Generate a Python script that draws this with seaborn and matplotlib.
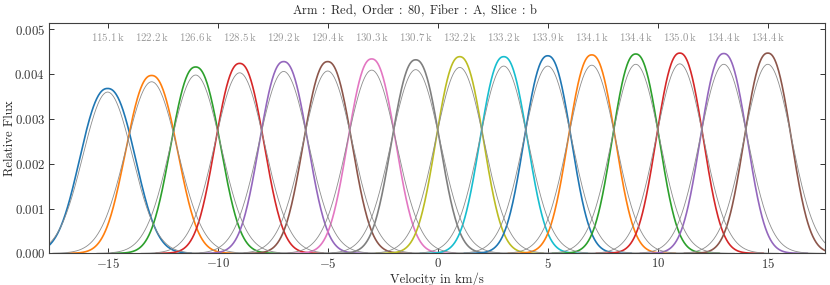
import numpy as np
import pandas as pd
import matplotlib.pyplot as plt
import seaborn as sns


# profile parameters
centers = [-15, -13, -11, -9, -7, -5, -3, -1, 1, 3, 5, 7, 9, 11, 13, 15]
obs_peak = [0.00368, 0.00397, 0.00416, 0.00424, 0.00428, 0.00428, 0.00434, 0.00432,
            0.00439, 0.00439, 0.00441, 0.00443, 0.00445, 0.00447, 0.00446, 0.00447]
obs_width = [1.64, 1.53, 1.47, 1.44, 1.43, 1.43, 1.41, 1.42,
             1.40, 1.40, 1.39, 1.39, 1.38, 1.38, 1.38, 1.38]
model_peak = [0.00360, 0.00383, 0.00398, 0.00403, 0.00406, 0.00407, 0.00409, 0.00410,
              0.00415, 0.00418, 0.00418, 0.00420, 0.00422, 0.00423, 0.00422, 0.00422]
model_sigma = [1.12, 1.17, 1.14, 1.13, 1.12, 1.12, 1.11, 1.11,
               1.10, 1.09, 1.09, 1.08, 1.08, 1.08, 1.08, 1.08]
res_power = [115.1, 122.2, 126.6, 128.5, 129.2, 129.4, 130.3, 130.7,
             132.2, 133.2, 133.9, 134.1, 134.4, 135.0, 134.4, 134.4]

#Build long tables

obs_rows = []
mod_rows = []
for i, c in enumerate(centers):
    v = np.linspace(c - 3.8, c + 3.8, 300)
    f = obs_peak[i] * np.exp(-np.abs((v - c) / obs_width[i]) ** 2.3)
    obs_rows.append(pd.DataFrame({"velocity": v, "flux": f, "slice": i}))
    vm = np.linspace(c - 4.5, c + 4.5, 300)
    fm = model_peak[i] * np.exp(-0.5 * ((vm - c) / model_sigma[i]) ** 2)
    mod_rows.append(pd.DataFrame({"velocity": vm, "flux": fm, "slice": i}))
df_obs = pd.concat(obs_rows, ignore_index=True)
df_mod = pd.concat(mod_rows, ignore_index=True)

sns.set_style("ticks")
plt.rcParams["font.family"] = "serif"
plt.rcParams["font.serif"] = ["cmr10"]
plt.rcParams["mathtext.fontset"] = "cm"
plt.rcParams["axes.formatter.use_mathtext"] = True
plt.rcParams["axes.unicode_minus"] = True

tab10 = sns.color_palette("tab10")
colors = [tab10[i % 10] for i in range(len(centers))]

fig = plt.figure(figsize=(8.3, 2.85), dpi=100)
ax = fig.add_axes([0.0594, 0.1112, 0.9346, 0.8078])

sns.lineplot(data=df_obs, x="velocity", y="flux", hue="slice", palette=colors,
             estimator=None, lw=1.2, legend=False, ax=ax)
sns.lineplot(data=df_mod, x="velocity", y="flux", units="slice", estimator=None,
             color="0.55", lw=0.6, legend=False, ax=ax)

for c, r in zip(centers, res_power):
    ax.text(c, 0.00484, rf"${r:.1f}\,\mathrm{{k}}$", ha="center", va="center",
            fontsize=7.8, color="0.6")

ax.set_xlim(-17.65, 17.6)
ax.set_ylim(0, 0.00514)
ax.set_xticks([-15, -10, -5, 0, 5, 10, 15])
ax.set_yticks([0, 0.001, 0.002, 0.003, 0.004, 0.005])
ax.yaxis.set_major_formatter(plt.FormatStrFormatter(r"$%.3f$"))
ax.tick_params(direction="in", top=True, right=True, length=3.5, width=0.7,
               labelsize=9.2, colors="0.2", pad=3)
for s in ax.spines.values():
    s.set_color("0.25")
    s.set_linewidth(0.8)

ax.set_xlabel("Velocity in km/s", fontsize=9.2, labelpad=0.5)
ax.set_ylabel("Relative Flux", fontsize=9.2)
ax.yaxis.set_label_coords(-0.043, 0.5)
fig.text(0.5, 0.961,
         r"$\mathrm{Arm}\;:\;\mathrm{Red},\ \mathrm{Order}\;:\;80,\ \mathrm{Fiber}\;:\;\mathrm{A},\ \mathrm{Slice}\;:\;\mathrm{b}$",
         ha="center", va="center", fontsize=9)

plt.savefig("out.png", dpi=100)
